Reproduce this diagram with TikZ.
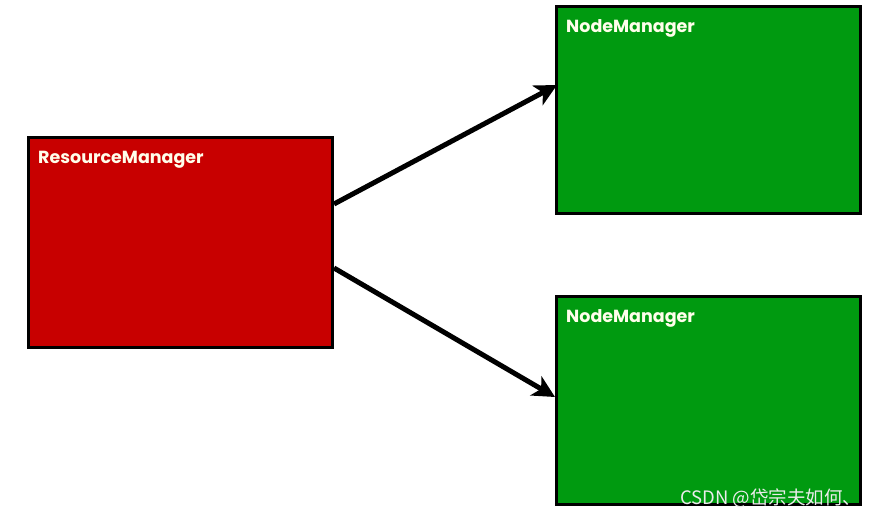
\documentclass[tikz,border=0pt]{standalone}
\usepackage{fontspec}
\setmainfont{Poppins}
\newfontfamily\cjk{Noto Sans CJK SC}
\usetikzlibrary{arrows.meta}
\definecolor{rmred}{HTML}{C80000}
\definecolor{nmgreen}{HTML}{009A10}
\tikzset{
  box/.style={draw=black, line width=3pt, inner sep=0pt},
  lbl/.style={anchor=north west, text=white!92!yellow, font=\bfseries\fontsize{17.5pt}{20pt}\selectfont, inner sep=0pt},
  conn/.style={line width=5pt, -{Stealth[length=22pt,width=22pt,inset=6pt]}}
}
\begin{document}
\begin{tikzpicture}[x=1pt,y=-1pt]
\useasboundingbox (0,0) rectangle (874,518);
\fill[white] (0,0) rectangle (874,518);
\draw[box, fill=rmred] (28,138) rectangle (332,347);
\draw[box, fill=nmgreen] (556,7) rectangle (860,214);
\draw[box, fill=nmgreen] (556,296) rectangle (860,504);
\node[lbl] (rml) at (38,151) {ResourceManager};
\node[lbl] (nm1l) at (566,19) {NodeManager};
\node[lbl] (nm2l) at (566,309) {NodeManager};
\coordinate (a1s) at (334,204);
\coordinate (a1e) at (557,85);
\coordinate (a2s) at (334,268);
\coordinate (a2e) at (555,397);
\draw[conn] (a1s) -- (a1e);
\draw[conn] (a2s) -- (a2e);
\node[anchor=base west, text=white!85!gray, font=\cjk\fontsize{18.5pt}{20pt}\selectfont, inner sep=0pt] (wm) at (680,504) {CSDN @岱宗夫如何、};
\end{tikzpicture}
\end{document}
